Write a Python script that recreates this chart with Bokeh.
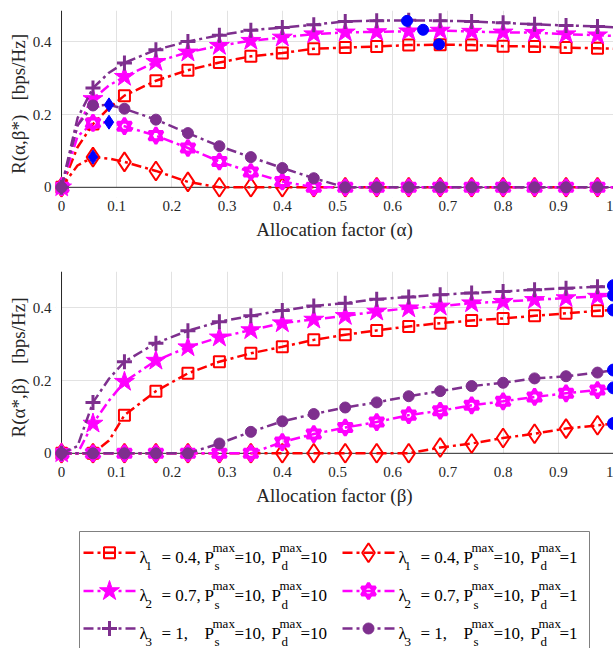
from bokeh.plotting import figure
from bokeh.layouts import column
from bokeh.models import Range1d, FixedTicker, BoxAnnotation
from bokeh.core.properties import value
from bokeh.embed import file_html
from bokeh.resources import INLINE

# ---------------------------------------------------------------- data
# allocation factor grid (alpha in the upper panel, beta in the lower one)
alloc = [0.0, 0.029, 0.057, 0.086, 0.114, 0.171, 0.229, 0.286, 0.343, 0.400,
         0.457, 0.514, 0.571, 0.629, 0.686, 0.743, 0.800, 0.857, 0.914, 0.971, 1.0]
# grid points that carry a marker
marker_idx = [0, 2] + list(range(4, 20))

# upper panel: R(alpha, beta*)  [bps/Hz]
top_l1_pd10 = [0, 0.110, 0.174, 0.218, 0.252, 0.293, 0.322, 0.343, 0.360, 0.369, 0.381,
               0.384, 0.387, 0.391, 0.392, 0.391, 0.388, 0.387, 0.384, 0.382, 0.381]
top_l1_pd1 = [0, 0.060, 0.083, 0.079, 0.070, 0.045, 0.015, 0, 0, 0, 0,
              0, 0, 0, 0, 0, 0, 0, 0, 0, 0]
top_l2_pd10 = [0, 0.170, 0.243, 0.280, 0.304, 0.345, 0.371, 0.389, 0.403, 0.412, 0.421,
               0.426, 0.427, 0.429, 0.431, 0.428, 0.426, 0.425, 0.421, 0.418, 0.416]
top_l2_pd1 = [0, 0.140, 0.177, 0.179, 0.168, 0.142, 0.108, 0.071, 0.042, 0.016, 0,
              0, 0, 0, 0, 0, 0, 0, 0, 0, 0]
top_l3_pd10 = [0, 0.190, 0.273, 0.315, 0.342, 0.378, 0.401, 0.418, 0.432, 0.439, 0.447,
               0.456, 0.458, 0.459, 0.458, 0.456, 0.452, 0.448, 0.445, 0.442, 0.440]
top_l3_pd1 = [0, 0.170, 0.225, 0.2266, 0.216, 0.186, 0.149, 0.113, 0.083, 0.053, 0.025,
              0, 0, 0, 0, 0, 0, 0, 0, 0, 0]
# optimum alpha for the Pd=10 curves
top_opt_alpha = [0.684, 0.655, 0.626]
top_opt_rate = [0.393, 0.433, 0.4575]

# lower panel: R(alpha*, beta)  [bps/Hz]
bot_l1_pd10 = [0, 0, 0, 0.035, 0.105, 0.171, 0.220, 0.252, 0.275, 0.293, 0.312,
               0.326, 0.338, 0.349, 0.358, 0.365, 0.371, 0.378, 0.385, 0.392, 0.394]
bot_l1_pd1 = [0, 0, 0, 0, 0, 0, 0, 0, 0, 0, 0,
              0, 0, 0, 0.016, 0.027, 0.042, 0.054, 0.068, 0.077, 0.082]
bot_l2_pd10 = [0, 0, 0.082, 0.145, 0.197, 0.255, 0.292, 0.319, 0.339, 0.358, 0.368,
               0.378, 0.390, 0.399, 0.404, 0.413, 0.417, 0.422, 0.427, 0.431, 0.435]
bot_l2_pd1 = [0, 0, 0, 0, 0, 0, 0, 0, 0, 0.031, 0.053,
              0.071, 0.086, 0.105, 0.117, 0.132, 0.143, 0.155, 0.165, 0.174, 0.180]
bot_l3_pd10 = [0, 0.020, 0.140, 0.205, 0.252, 0.303, 0.337, 0.362, 0.378, 0.393, 0.405,
               0.413, 0.424, 0.430, 0.436, 0.441, 0.445, 0.450, 0.454, 0.458, 0.461]
bot_l3_pd1 = [0, 0, 0, 0, 0, 0, 0, 0.027, 0.059, 0.088, 0.108,
              0.126, 0.140, 0.157, 0.171, 0.185, 0.194, 0.206, 0.212, 0.222, 0.229]

x_ticks = [0, 0.1, 0.2, 0.3, 0.4, 0.5, 0.6, 0.7, 0.8, 0.9, 1.0]
x_tick_labels = ["0", "0.1", "0.2", "0.3", "0.4", "0.5", "0.6", "0.7", "0.8", "0.9", "1"]
y_ticks = [0, 0.2, 0.4]
y_tick_labels = ["0", "0.2", "0.4"]

lambda_sub = ["1", "2", "3"]
lambda_val = ["= 0.4,", "= 0.7,", "= 1,"]
ps_max = "=10,"
pd_max = ["=10", "=1"]

# ---------------------------------------------------------------- style
RED, MAGENTA, PURPLE, BLUE = "#ff0000", "#ff00ff", "#7e2f8e", "#0000ff"
AXIS = "#262626"
GRID = "#e2e2e2"
DASH = "10 4 3 4"
LW = 2.5
FONT = "'Liberation Serif', 'Times New Roman', serif"
XMIN, YMIN = -0.0109, -0.028
LEFT = 55  # left border shared by all three stacked figures

# (colour, marker) per curve, in drawing order
styles = [(RED, "square"), (RED, "diamond"), (MAGENTA, "star"),
          (MAGENTA, "hexagram"), (PURPLE, "plus"), (PURPLE, "circle")]


def draw_marker(p, xs, ys, color, kind):
    if kind == "square":
        p.scatter(xs, ys, marker="square", size=11, line_color=color, line_width=2, fill_color=None)
    elif kind == "diamond":
        p.scatter(xs, ys, marker="diamond", size=19, line_color=color, line_width=2, fill_color=None)
    elif kind == "star":
        p.scatter(xs, ys, marker="star", size=21, line_color=color, line_width=1, fill_color=color)
    elif kind == "hexagram":
        for m in ("triangle", "inverted_triangle"):
            p.scatter(xs, ys, marker=m, size=14, line_color=color, line_width=3, fill_color=None)
    elif kind == "plus":
        p.scatter(xs, ys, marker="cross", size=15, line_color=color, line_width=3)
    elif kind == "circle":
        p.scatter(xs, ys, marker="circle", size=11, line_color=color, fill_color=color)


def draw_curve(p, ys, color, kind):
    p.line(alloc, ys, line_color=color, line_width=LW, line_dash=DASH)
    draw_marker(p, [alloc[i] for i in marker_idx], [ys[i] for i in marker_idx], color, kind)


def make_panel(height, border_top, border_bottom, ymax, xlabel, ylabel):
    p = figure(width=613, height=height, x_range=Range1d(XMIN, 1.0), y_range=Range1d(YMIN, ymax),
               output_backend="svg", toolbar_location=None, tools="",
               min_border_left=LEFT, min_border_right=0,
               min_border_top=border_top, min_border_bottom=border_bottom)
    p.outline_line_color = None
    p.background_fill_color = "white"

    p.xaxis.ticker = FixedTicker(ticks=x_ticks)
    p.xaxis.major_label_overrides = dict(zip(x_ticks, x_tick_labels))
    p.yaxis.ticker = FixedTicker(ticks=y_ticks)
    p.yaxis.major_label_overrides = dict(zip(y_ticks, y_tick_labels))
    for ax in (p.xaxis[0], p.yaxis[0]):
        ax.axis_line_color = None
        ax.major_tick_line_color = None
        ax.minor_tick_line_color = None
        ax.major_label_text_font = FONT
        ax.major_label_text_font_size = "15px"
        ax.major_label_text_color = AXIS
        ax.axis_label_text_font = FONT
        ax.axis_label_text_font_size = "19px"
        ax.axis_label_text_font_style = "normal"
        ax.axis_label_text_color = AXIS
    p.xaxis.major_label_standoff = -3
    p.xaxis.axis_label_standoff = 5
    p.yaxis.major_label_standoff = -2
    p.yaxis.axis_label_standoff = 1
    p.xaxis.axis_label = xlabel
    p.yaxis.axis_label = ylabel

    p.xgrid.ticker = FixedTicker(ticks=x_ticks)
    p.ygrid.ticker = FixedTicker(ticks=y_ticks)
    p.grid.grid_line_color = GRID
    p.grid.grid_line_width = 1
    # keep the grid inside the positive quadrant
    p.add_layout(BoxAnnotation(top=0, fill_color="white", fill_alpha=1, line_color=None, level="underlay"))
    p.add_layout(BoxAnnotation(right=0, fill_color="white", fill_alpha=1, line_color=None, level="underlay"))
    # axis lines through the origin
    p.line([x_ticks[0], x_ticks[-1]], [0, 0], line_color=AXIS, line_width=1)
    p.line([0, 0], [0, ymax], line_color=AXIS, line_width=1)
    return p


SP = "\u00a0\u00a0\u00a0"

# ---------------------------------------------------------------- upper panel
p1 = make_panel(258, 10, 61, 0.486, "Allocation factor (α)", "R(α,β*)" + SP + "[bps/Hz]")
top_curves = [top_l1_pd10, top_l1_pd1, top_l2_pd10, top_l2_pd1, top_l3_pd10, top_l3_pd1]
for ys, (color, kind) in zip(top_curves, styles):
    draw_curve(p1, ys, color, kind)
# maxima of the Pd=1 curves
dx, dy = [], []
for ys in (top_l1_pd1, top_l2_pd1, top_l3_pd1):
    i = ys.index(max(ys))
    dx.append(alloc[i])
    dy.append(ys[i])
p1.scatter(dx, dy, marker="diamond", size=14, fill_color=BLUE, line_color=BLUE)
p1.scatter(top_opt_alpha, top_opt_rate, marker="circle", size=11, fill_color=BLUE, line_color=BLUE)

# ---------------------------------------------------------------- lower panel
p2 = make_panel(257, 13, 52, 0.5, "Allocation factor (β)", "R(α*,β)" + SP + "[bps/Hz]")
bot_curves = [bot_l1_pd10, bot_l1_pd1, bot_l2_pd10, bot_l2_pd1, bot_l3_pd10, bot_l3_pd1]
for ys, (color, kind) in zip(bot_curves, styles):
    draw_curve(p2, ys, color, kind)
p2.scatter([alloc[-1]] * len(bot_curves), [ys[-1] for ys in bot_curves],
           marker="circle", size=12, fill_color=BLUE, line_color=BLUE)

# ---------------------------------------------------------------- legend
# coordinates in this figure are page pixels (x from the left, y from the figure top)
LH = 133
leg = figure(width=613, height=LH, x_range=Range1d(LEFT, 613), y_range=Range1d(LH, 0),
             output_backend="svg", toolbar_location=None, tools="",
             x_axis_type=None, y_axis_type=None,
             min_border_left=LEFT, min_border_right=0, min_border_top=0, min_border_bottom=0)
leg.outline_line_color = None
leg.grid.visible = False
leg.quad(left=79, right=589, top=16, bottom=LH + 10, fill_color=None, line_color="#808080", line_width=1)

row_y = [37.3, 75.5, 113.0]
col_x = [139, 398]
col_styles = [[styles[0], styles[2], styles[4]], [styles[1], styles[3], styles[5]]]


def put(x, y, txt, size):
    leg.text(x=[x], y=[y], text=[txt], text_font=value(FONT), text_font_size=size,
             text_baseline="alphabetic", text_align="left", text_color="black")


for c, x0 in enumerate(col_x):
    for r, y in enumerate(row_y):
        color, kind = col_styles[c][r]
        leg.line([x0 - 56, x0 - 4], [y, y], line_color=color, line_width=LW, line_dash=DASH)
        draw_marker(leg, [x0 - 30], [y], color, kind)
        b = y + 4.5
        put(x0, b, "λ", "17px")
        put(x0 + 6, b + 8.5, lambda_sub[r], "13px")
        put(x0 + 22, b, lambda_val[r], "17px")
        put(x0 + 65, b, "P", "17px")
        put(x0 + 73, b - 10, "max", "13px")
        put(x0 + 75, b + 8.5, "s", "13px")
        put(x0 + 95, b, ps_max, "17px")
        put(x0 + 132, b, "P", "17px")
        put(x0 + 140, b - 10, "max", "13px")
        put(x0 + 142, b + 8.5, "d", "13px")
        put(x0 + 161, b, pd_max[c], "17px")

layout = column(p1, p2, leg, spacing=0)
open("out.html", "w").write(file_html(layout, INLINE))
